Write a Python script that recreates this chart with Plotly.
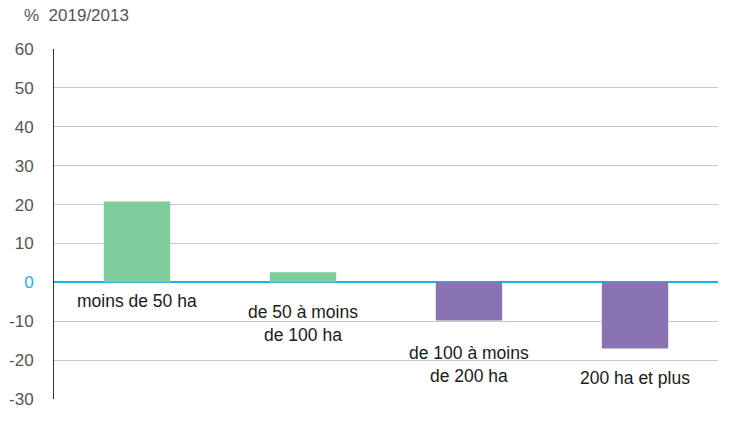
import plotly.graph_objects as go

categories = ["moins de 50 ha", "de 50 à moins<br>de 100 ha", "de 100 à moins<br>de 200 ha", "200 ha et plus"]
values = [20.8, 2.6, -9.8, -17.0]
colors = ["#7fcb9c", "#7fcb9c", "#8a73b3", "#8a73b3"]
tick_vals = [-30, -20, -10, 0, 10, 20, 30, 40, 50, 60]
label_y = [-4.9, -10.5, -21.1, -24.7]

fig = go.Figure()
fig.add_trace(go.Bar(x=categories, y=values, marker_color=colors, width=0.4,
                     marker_line_width=0))

anns = []
for c, ly in zip(categories, label_y):
    anns.append(dict(x=c, y=ly, text=c, showarrow=False, xref="x", yref="y",
                     font=dict(size=17.5, color="#1a1a1a"), align="center"))
anns.append(dict(text="%  2019/2013", xref="paper", yref="paper", x=-0.048, y=1.097,
                 xanchor="left", yanchor="middle", showarrow=False,
                 font=dict(size=17, color="#555555")))

fig.update_layout(
    width=731, height=419,
    margin=dict(l=46, r=21, t=41, b=28, autoexpand=False),
    paper_bgcolor="white", plot_bgcolor="white",
    font=dict(family="Liberation Sans, Arial, sans-serif", size=17, color="#555555"),
    showlegend=False,
    bargap=0.6,
    annotations=anns,
    shapes=[
        dict(type="rect", xref="paper", yref="paper", x0=1.022, x1=1.027, y0=-0.2, y1=1.2,
             fillcolor="#c2b3dc", line=dict(width=0), layer="above"),
    ],
)
fig.update_xaxes(showticklabels=False, showgrid=False, zeroline=False, showline=False,
                 automargin=False)
fig.update_yaxes(range=[-30, 60], tickvals=tick_vals,
                 ticktext=["<span style='color:#1ab0e8'>0</span>" if v == 0 else str(v) for v in tick_vals],
                 showgrid=True, gridcolor="#c8c8c8", gridwidth=1,
                 zeroline=True, zerolinecolor="#1ab0e8", zerolinewidth=2,
                 showline=True, linecolor="#333333", linewidth=1,
                 ticks="outside", ticklen=16, tickcolor="rgba(0,0,0,0)", automargin=False)

fig.write_html("out.html")
